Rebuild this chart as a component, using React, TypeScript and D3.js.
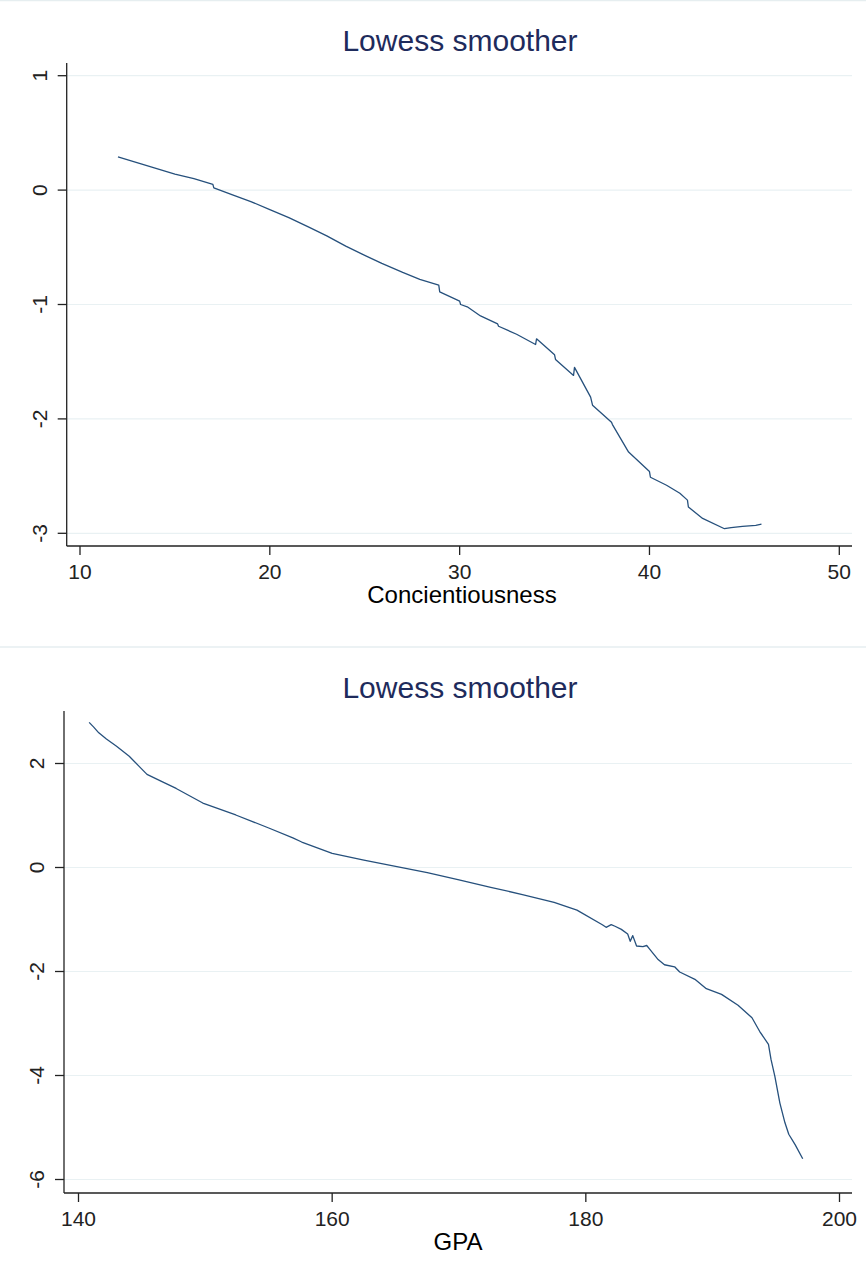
import React from "react";
import * as d3 from "d3";

// Lowess fit of the outcome on conscientiousness
const concX = [12, 13, 14, 15, 16, 17, 17.05, 18, 19, 20, 21, 22, 23, 24, 25, 25.9, 27, 27.9, 28.9, 28.95, 30, 30.05, 30.4, 31.1, 32, 32.05, 33, 34, 34.05, 35, 35.05, 36, 36.05, 36.9, 37.0, 38, 38.05, 38.9, 40, 40.05, 40.9, 41.6, 42, 42.05, 42.8, 43.95, 44.3, 44.9, 45.6, 45.9];
const concY = [0.29, 0.24, 0.19, 0.14, 0.10, 0.05, 0.02, -0.04, -0.10, -0.17, -0.24, -0.32, -0.40, -0.49, -0.57, -0.64, -0.72, -0.78, -0.83, -0.89, -0.97, -1.00, -1.02, -1.10, -1.17, -1.19, -1.26, -1.35, -1.30, -1.44, -1.48, -1.62, -1.55, -1.81, -1.88, -2.03, -2.05, -2.29, -2.46, -2.51, -2.58, -2.65, -2.71, -2.77, -2.87, -2.96, -2.95, -2.94, -2.93, -2.92];
const concXTicks = [10, 20, 30, 40, 50];
const concYTicks = [1, 0, -1, -2, -3];

// Lowess fit of the outcome on GPA
const gpaX = [140.84, 141.2, 141.6, 142.2, 143, 144, 144.8, 145.4, 146.5, 147.7, 149.8, 152.4, 155, 156.9, 157.6, 160, 162.5, 165, 167.5, 170, 172.5, 175, 177.5, 179.3, 181.3, 181.6, 182.0, 182.3, 182.8, 183.3, 183.5, 183.7, 184.0, 184.5, 184.8, 185.0, 185.7, 186.2, 187.0, 187.4, 188.6, 189.5, 190.7, 192, 193.1, 193.7, 194.4, 194.6, 194.9, 195.3, 195.7, 196.0, 196.5, 197.1];
const gpaY = [2.79, 2.70, 2.59, 2.47, 2.33, 2.14, 1.94, 1.79, 1.66, 1.52, 1.24, 1.01, 0.76, 0.57, 0.49, 0.27, 0.14, 0.02, -0.10, -0.24, -0.38, -0.52, -0.67, -0.82, -1.10, -1.15, -1.10, -1.13, -1.19, -1.28, -1.42, -1.31, -1.51, -1.52, -1.50, -1.56, -1.77, -1.87, -1.91, -2.01, -2.15, -2.33, -2.44, -2.65, -2.89, -3.15, -3.40, -3.69, -4.01, -4.53, -4.91, -5.13, -5.33, -5.60];
const gpaXTicks = [140, 160, 180, 200];
const gpaYTicks = [2, 0, -2, -4, -6];

const chartTitle = "Lowess smoother";
const FONT = "'Liberation Sans', Arial, sans-serif";
const LINE = "#26507c";
const GRID = "#e9f1f3";
const AXIS = "#222";

type PanelProps = {
  xs: number[];
  ys: number[];
  xTicks: number[];
  yTicks: number[];
  xLabel: string;
  xLabelX: number;
  top: number;
  frame: { left: number; right: number; top: number; bottom: number };
  xScale: d3.ScaleLinear<number, number>;
  yScale: d3.ScaleLinear<number, number>;
};

function Panel({ xs, ys, xTicks, yTicks, xLabel, xLabelX, top, frame, xScale, yScale }: PanelProps) {
  const pts: [number, number][] = xs.map((x, i) => [x, ys[i]]);
  const line = d3
    .line<[number, number]>()
    .x((d) => xScale(d[0]))
    .y((d) => yScale(d[1]))
    .curve(d3.curveLinear);
  return (
    <g transform={`translate(0,${top})`}>
      <text x={460} y={51} textAnchor="middle" fontSize={30} fill="#1e2b5c" fontFamily={FONT}>
        {chartTitle}
      </text>
      {yTicks.map((t) => (
        <line key={`g${t}`} x1={frame.left} x2={frame.right} y1={yScale(t)} y2={yScale(t)} stroke={GRID} strokeWidth={1.2} />
      ))}
      <path d={line(pts) || ""} fill="none" stroke={LINE} strokeWidth={1.3} strokeLinejoin="round" />
      <line x1={frame.left} x2={frame.left} y1={frame.top} y2={frame.bottom} stroke={AXIS} strokeWidth={1.3} />
      <line x1={frame.left} x2={frame.right} y1={frame.bottom} y2={frame.bottom} stroke={AXIS} strokeWidth={1.3} />
      {yTicks.map((t) => (
        <g key={`y${t}`}>
          <line x1={frame.left - 9} x2={frame.left} y1={yScale(t)} y2={yScale(t)} stroke={AXIS} strokeWidth={1.3} />
          <text
            transform={`translate(${frame.left - 20},${yScale(t)}) rotate(-90)`}
            textAnchor="middle"
            fontSize={21}
            fill="#222"
            fontFamily={FONT}
          >
            {t}
          </text>
        </g>
      ))}
      {xTicks.map((t) => (
        <g key={`x${t}`}>
          <line x1={xScale(t)} x2={xScale(t)} y1={frame.bottom} y2={frame.bottom + 9} stroke={AXIS} strokeWidth={1.3} />
          <text x={xScale(t)} y={frame.bottom + 32.5} textAnchor="middle" fontSize={21} fill="#222" fontFamily={FONT}>
            {t}
          </text>
        </g>
      ))}
      <text x={xLabelX} y={frame.bottom + 57} textAnchor="middle" fontSize={24} fill="#000" fontFamily={FONT}>
        {xLabel}
      </text>
    </g>
  );
}

export default function App() {
  const concFrame = { left: 66.7, right: 852, top: 63, bottom: 546 };
  const concXScale = d3.scaleLinear().domain([10, 50]).range([80, 839.3]);
  const concYScale = d3.scaleLinear().domain([1, -3]).range([75.7, 533.3]);

  const gpaFrame = { left: 64, right: 852, top: 64, bottom: 546 };
  const gpaXScale = d3.scaleLinear().domain([140, 200]).range([78.5, 839.5]);
  const gpaYScale = d3.scaleLinear().domain([2, -6]).range([116.5, 532.5]);

  return (
    <svg
      width={866}
      height={1276}
      viewBox="0 0 866 1276"
      style={{ position: "absolute", left: 0, top: 0, background: "#fff" }}
    >
      <rect x={0} y={0} width={866} height={1276} fill="#fff" />
      <line x1={0} x2={866} y1={0.5} y2={0.5} stroke="#e6eef0" strokeWidth={1.5} />
      <line x1={0} x2={866} y1={647} y2={647} stroke="#e6eef0" strokeWidth={1.5} />
      <Panel
        xs={concX}
        ys={concY}
        xTicks={concXTicks}
        yTicks={concYTicks}
        xLabel="Concientiousness"
        xLabelX={462}
        top={0}
        frame={concFrame}
        xScale={concXScale}
        yScale={concYScale}
      />
      <Panel
        xs={gpaX}
        ys={gpaY}
        xTicks={gpaXTicks}
        yTicks={gpaYTicks}
        xLabel="GPA"
        xLabelX={458}
        top={647}
        frame={gpaFrame}
        xScale={gpaXScale}
        yScale={gpaYScale}
      />
    </svg>
  );
}
